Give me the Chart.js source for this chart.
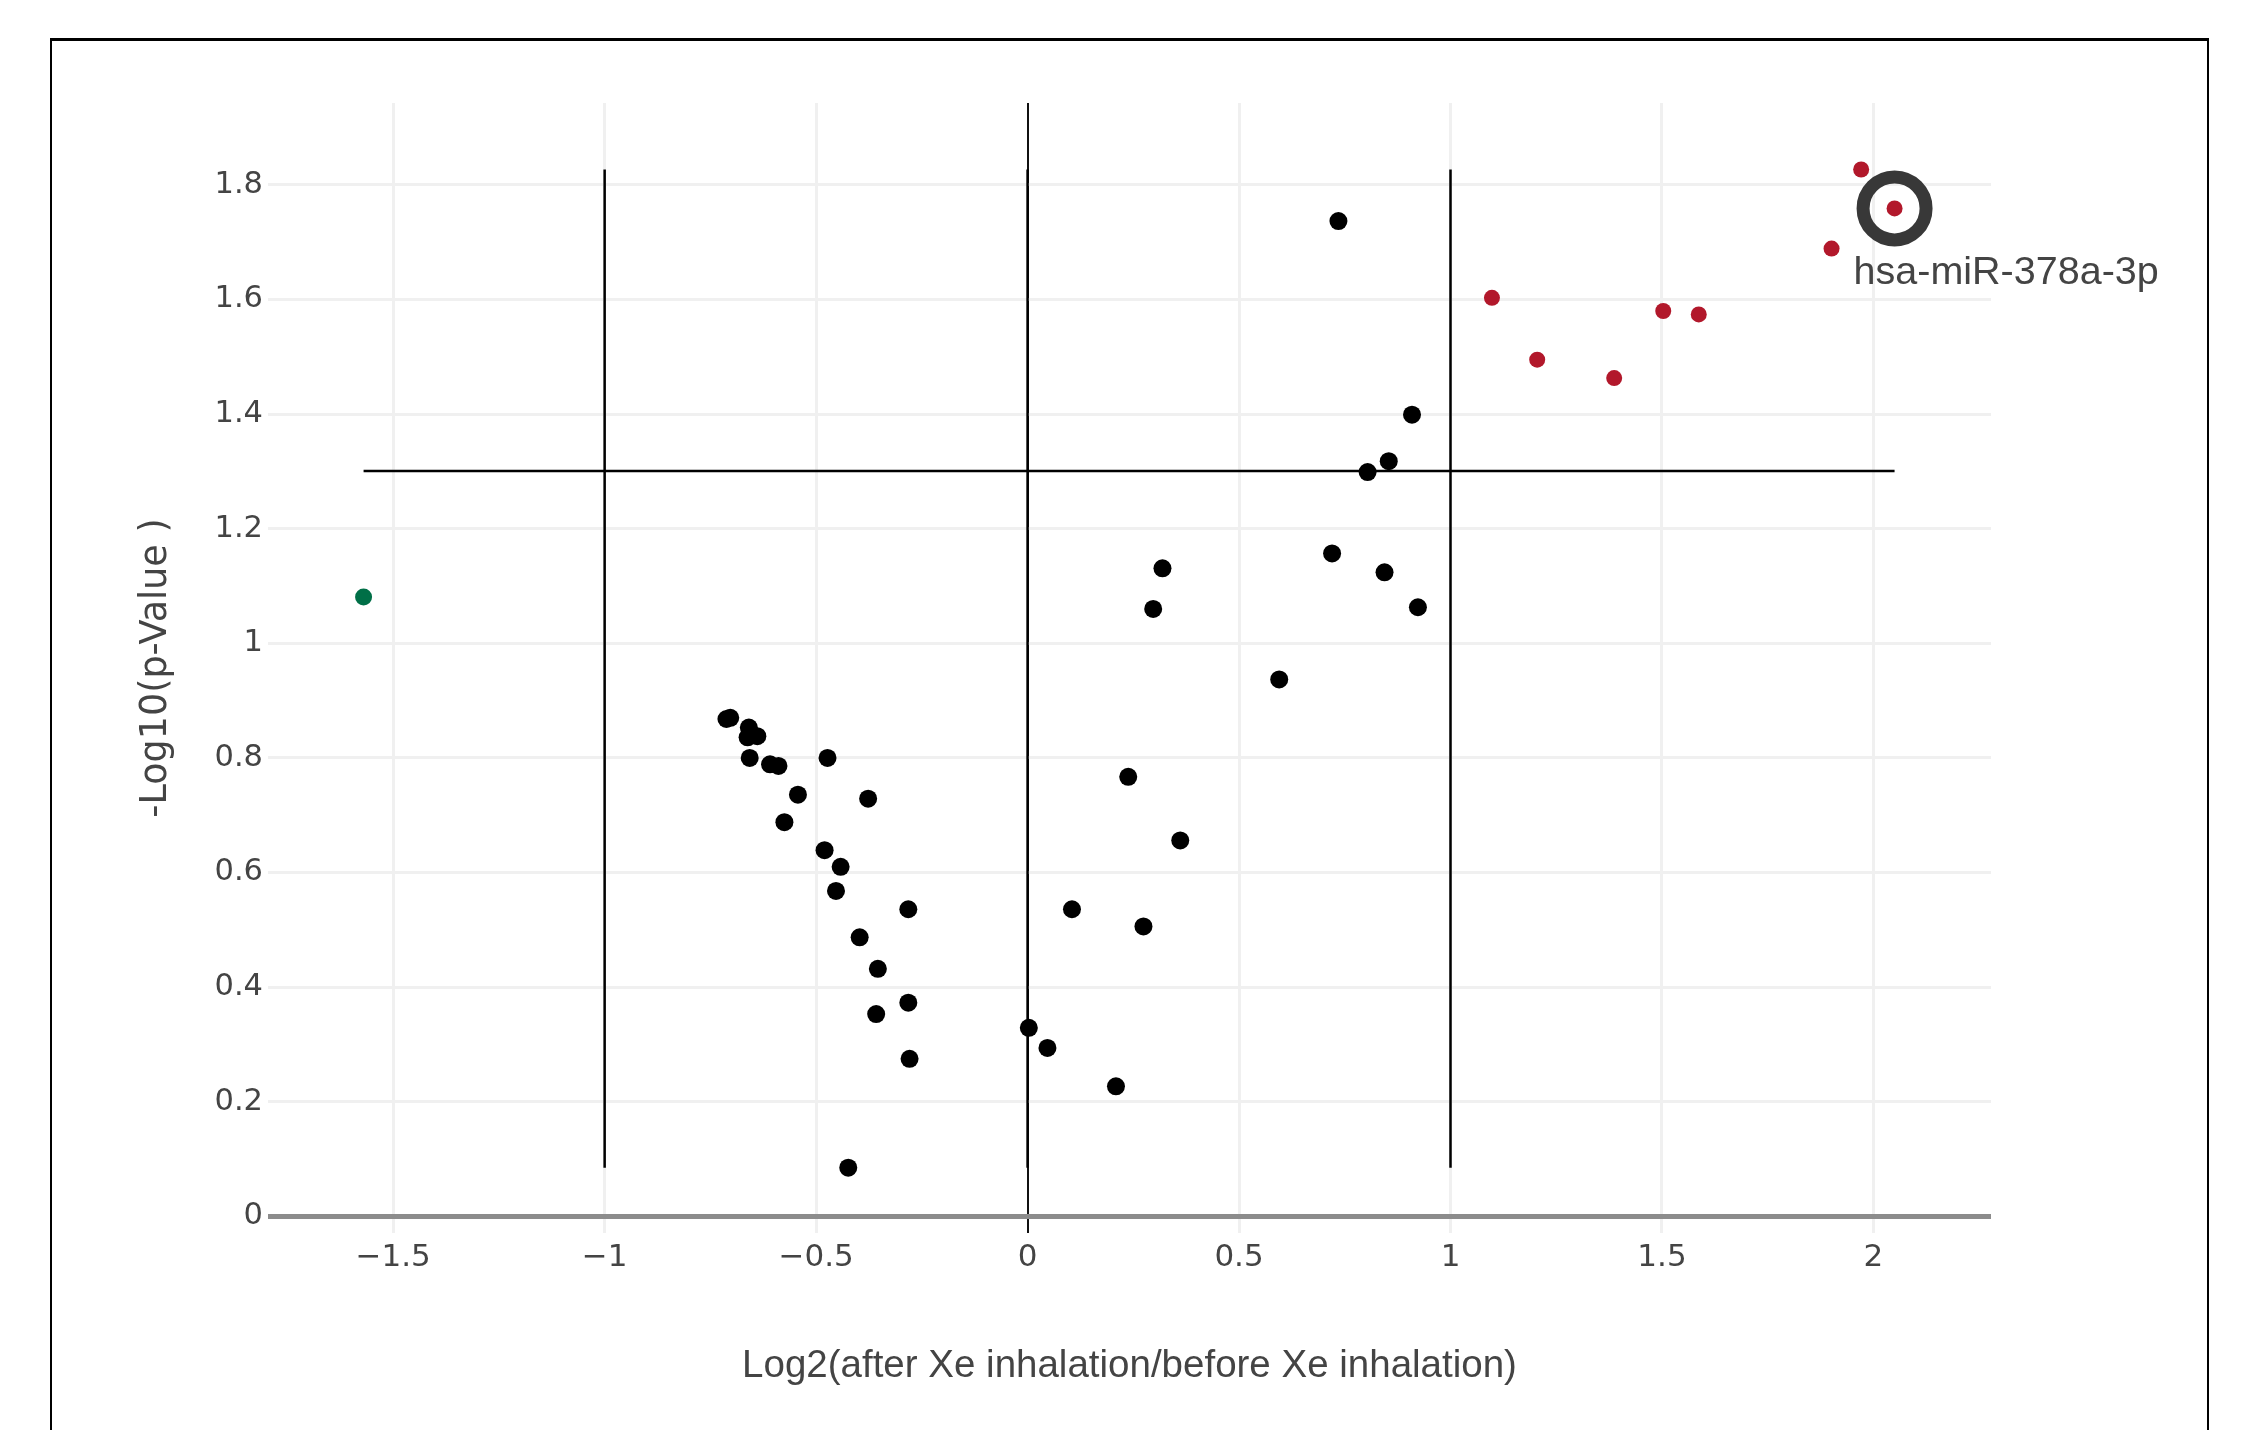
<!DOCTYPE html>
<html>
<head>
<meta charset="utf-8">
<script src="https://cdn.jsdelivr.net/npm/chart.js@4.4.1/dist/chart.umd.min.js"></script>
<style>
  html, body { margin: 0; padding: 0; background: #fff; }
  #wrap { position: relative; width: 2241px; height: 1430px; overflow: hidden; }
  #volcano { position: absolute; left: 0; top: 0; }
  #frame {
    position: absolute; left: 50px; top: 38px; width: 2159px; height: 1500px;
    border: 2px solid #000; border-top-width: 3px; box-sizing: border-box; pointer-events: none;
  }
</style>
</head>
<body>
<div id="wrap">
  <canvas id="volcano" width="2241" height="1430"></canvas>
  <div id="frame"></div>
</div>
<script>
// fold change (log2) and -log10(p)
const notSigX = [0.735, 0.909, 0.854, 0.804, 0.720, 0.844, 0.923,
  0.319, 0.297, 0.595, 0.238, 0.361, 0.105, 0.274, 0.003, 0.047, 0.209,
  -0.703, -0.712, -0.659, -0.639, -0.662, -0.657, -0.609, -0.589, -0.473, -0.543, -0.377,
  -0.575, -0.480, -0.442, -0.453, -0.282, -0.397, -0.354, -0.358, -0.282, -0.279, -0.424];
const notSigY = [1.737, 1.399, 1.318, 1.299, 1.157, 1.124, 1.063,
  1.131, 1.060, 0.937, 0.767, 0.656, 0.536, 0.506, 0.329, 0.294, 0.227,
  0.870, 0.868, 0.853, 0.838, 0.836, 0.800, 0.789, 0.786, 0.800, 0.736, 0.729,
  0.688, 0.639, 0.610, 0.568, 0.536, 0.487, 0.432, 0.353, 0.373, 0.275, 0.085];

const upX = [1.971, 2.050, 1.901, 1.098, 1.205, 1.387, 1.503, 1.587];
const upY = [1.827, 1.759, 1.689, 1.603, 1.495, 1.463, 1.580, 1.574];

const downX = [-1.570];
const downY = [1.081];

const highlightNames = ['hsa-miR-378a-3p'];
const highlightIndex = [1]; // index into upX/upY

const pThreshold = 1.301;
const foldLines = [-1, 0, 1];

const xTitle = 'Log2(after Xe inhalation/before Xe inhalation)';
const yTitle = '-Log10(p-Value )';
const xRange = [-1.796, 2.278];
const yRange = [-0.029, 1.943];

const toPts = (xs, ys) => xs.map((x, i) => ({ x: x, y: ys[i] }));

const allX = [...notSigX, ...upX, ...downX];
const allY = [...notSigY, ...upY, ...downY];
const loY = Math.min(...allY), hiY = Math.max(...allY);

const lineSets = [
  [{ x: Math.min(...allX), y: pThreshold }, { x: Math.max(...allX), y: pThreshold }],
  ...foldLines.map(f => [{ x: f, y: loY }, { x: f, y: hiY }])
].map(d => ({
  data: d, showLine: true, pointRadius: 0, borderColor: '#000', borderWidth: 2.5, order: 5
}));

const ringData = highlightIndex.map(i => ({ x: upX[i], y: upY[i] }));

const fmt = v => String(+Number(v).toFixed(2)).replace('-', '\u2212');

const labelPlugin = {
  id: 'hitLabel',
  afterDatasetsDraw(chart) {
    const ringMeta = chart.getDatasetMeta(3);
    const ctx = chart.ctx;
    ringMeta.data.forEach((pt, i) => {
      ctx.save();
      ctx.font = '39.5px "Liberation Sans"';
      ctx.fillStyle = '#444';
      ctx.textAlign = 'left';
      ctx.textBaseline = 'alphabetic';
      ctx.fillText(highlightNames[i], pt.x - 41, pt.y + 76);
      ctx.restore();
    });
  }
};

new Chart(document.getElementById('volcano'), {
  type: 'scatter',
  data: {
    datasets: [
      { data: toPts(notSigX, notSigY), pointRadius: 9, pointBackgroundColor: '#000',
        pointBorderColor: '#000', pointBorderWidth: 0, order: 1 },
      { data: toPts(upX, upY), pointRadius: 8, pointBackgroundColor: '#b2182b',
        pointBorderColor: '#b2182b', pointBorderWidth: 0, order: 1 },
      { data: toPts(downX, downY), pointRadius: 8.5, pointBackgroundColor: '#006f47',
        pointBorderColor: '#006f47', pointBorderWidth: 0, order: 1 },
      { data: ringData, pointRadius: 31.5, pointBackgroundColor: 'rgba(0,0,0,0)',
        pointBorderColor: '#383838', pointBorderWidth: 13, order: 0 },
      ...lineSets
    ]
  },
  options: {
    responsive: false,
    animation: false,
    events: [],
    layout: { padding: { left: 120, right: 250, top: 103, bottom: 0 } },
    plugins: { legend: { display: false }, tooltip: { enabled: false } },
    scales: {
      x: {
        type: 'linear', min: xRange[0], max: xRange[1],
        afterFit: s => { s.height = 197; },
        border: { display: false },
        grid: {
          drawTicks: false,
          color: c => (c.tick && c.tick.value === 0 ? '#111' : '#f0f0f0'),
          lineWidth: c => (c.tick && c.tick.value === 0 ? 2 : 3)
        },
        ticks: {
          stepSize: 0.5, includeBounds: false, padding: 6, maxRotation: 0, autoSkip: false,
          color: '#444', font: { family: 'DejaVu Sans', size: 31 }, callback: fmt
        },
        title: {
          display: true, text: xTitle, color: '#444',
          font: { family: 'Liberation Sans', size: 38.5 }, padding: { top: 0, bottom: 41 }
        }
      },
      y: {
        type: 'linear', min: yRange[0], max: yRange[1],
        afterFit: s => { s.width = 148; },
        border: { display: false },
        grid: {
          drawTicks: false,
          color: c => (c.tick && c.tick.value === 0 ? '#8c8c8c' : '#f0f0f0'),
          lineWidth: c => (c.tick && c.tick.value === 0 ? 5 : 3)
        },
        ticks: {
          stepSize: 0.2, includeBounds: false, padding: 5,
          color: '#444', font: { family: 'DejaVu Sans', size: 30.5 }, callback: fmt
        },
        title: {
          display: true, text: yTitle, color: '#444',
          font: { family: 'DejaVu Sans', size: 36.5 }, padding: { top: 15, bottom: 0 }
        }
      }
    }
  },
  plugins: [labelPlugin]
});
</script>
</body>
</html>
